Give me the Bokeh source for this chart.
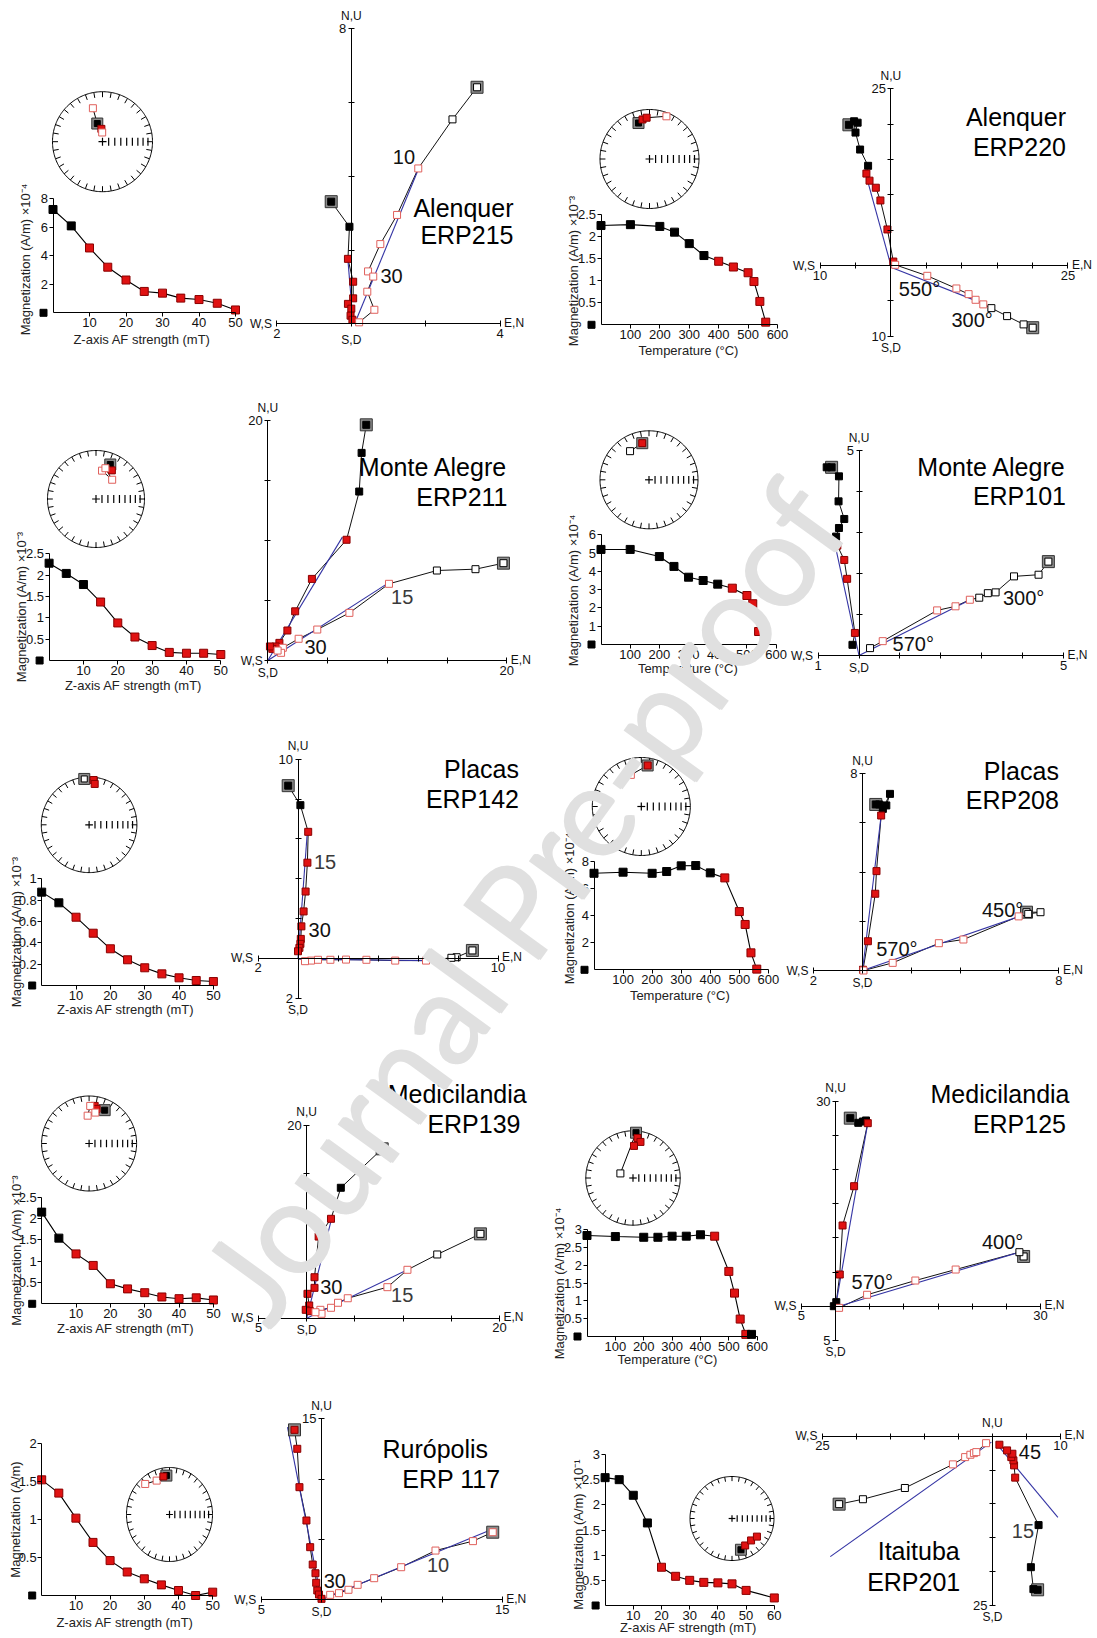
import numpy as np
from bokeh.plotting import figure
from bokeh.models import Range1d, LinearAxis, FixedTicker, CustomJSTickFormatter, Label
from bokeh.embed import file_html
from bokeh.resources import INLINE

FONT = "Liberation Sans"
RED, RED_EDGE = "#e01212", "#8a0000"
PINK = "#e0605c"
BLUE = "#3434a4"

# ---------------------------------------------------------------- data
AF = [0, 5, 10, 15, 20, 25, 30, 35, 40, 45, 50]
TH = [0, 100, 200, 250, 300, 350, 400, 450, 500, 520, 540, 560]

# ERP215  (Alenquer, AF)
ERP215_STEP = AF
ERP215_MAG = [7.25, 6.1, 4.55, 3.2, 2.3, 1.5, 1.38, 1.03, 0.93, 0.67, 0.2]
ERP215_FIT = [0, 0, 1, 1, 1, 1, 1, 1, 1, 1, 1]
ERP215_HX = [-0.54, -0.05, -0.09, 0.05, 0.05, -0.09, 0.0, -0.02, 0.03]
ERP215_HY = [3.31, 2.63, 1.76, 1.14, 0.69, 0.54, 0.41, 0.22, 0.11]
ERP215_HF = [0, 0, 1, 1, 1, 1, 1, 1, 1]
ERP215_VX = [3.38, 2.72, 1.80, 1.23, 0.78, 0.45, 0.59, 0.43, 0.62, 0.21]
ERP215_VY = [6.41, 5.54, 4.21, 2.95, 2.16, 1.42, 1.28, 0.87, 0.38, 0.04]
ERP215_VF = [0, 0, 1, 1, 1, 1, 1, 1, 1, 1]
ERP215_PCA_H = [0.05, 0.0, -0.09, 1.72]
ERP215_PCA_V = [0.09, 0.0, 1.82, 4.23]
ERP215_DEC = [344, 344, 355, 358]
ERP215_INC = [-31, 59, 69, -75]
ERP215_SN = ["r", "n", "r", "r"]

# ERP220  (Alenquer, thermal)
ERP220_STEP = TH
ERP220_MAG = [2.25, 2.27, 2.23, 2.10, 1.84, 1.57, 1.44, 1.31, 1.18, 0.98, 0.53, 0.06]
ERP220_FIT = [0, 0, 0, 0, 0, 0, 1, 1, 1, 1, 1, 1]
ERP220_HX = [-5.93, -5.2, -4.7, -5.0, -4.35, -3.22, -3.46, -3.02, -2.13, -1.48, -0.49, 0.34]
ERP220_HY = [19.9, 20.4, 20.2, 18.8, 16.4, 14.1, 13.0, 12.0, 11.0, 9.2, 5.1, 0.56]
ERP220_HF = [0, 0, 0, 0, 0, 0, 1, 1, 1, 1, 1, 1]
ERP220_VX = [20.03, 18.74, 16.41, 14.19, 13.05, 11.96, 10.97, 9.25, 5.14, 0.6]
ERP220_VY = [-8.8, -8.33, -7.16, -6.03, -5.5, -4.85, -4.05, -3.25, -1.46, 0.1]
ERP220_VF = [0, 0, 0, 0, 1, 1, 1, 1, 1, 1]
ERP220_PCA_H = [0.0, 0.0, -3.62, 13.18]
ERP220_PCA_V = [0.0, -0.24, 13.33, -5.5]
ERP220_DEC = [343, 350, 356, 21.6]
ERP220_INC = [25, 20, 17.5, -8]
ERP220_SN = ["n", "r", "r", "r"]

# ERP211  (Monte Alegre, AF)
ERP211_STEP = AF
ERP211_MAG = [2.28, 2.04, 1.78, 1.37, 0.88, 0.55, 0.35, 0.19, 0.17, 0.17, 0.14]
ERP211_FIT = [0, 0, 0, 1, 1, 1, 1, 1, 1, 1, 1]
ERP211_HX = [8.24, 7.85, 7.65, 6.59, 3.69, 2.29, 1.64, 0.97, 0.67, 0.38, 0.18]
ERP211_HY = [19.64, 17.3, 14.08, 10.06, 6.8, 4.1, 2.5, 1.47, 1.17, 0.97, 1.17]
ERP211_HF = [0, 0, 0, 1, 1, 1, 1, 1, 1, 1, 1]
ERP211_VX = [19.72, 17.38, 14.15, 10.14, 6.83, 4.14, 2.58, 1.26, 1.11, 0.82]
ERP211_VY = [8.11, 7.61, 7.5, 6.39, 3.97, 2.58, 1.81, 1.06, 0.64, 0.83]
ERP211_VF = [0, 0, 0, 1, 1, 1, 1, 1, 1, 1]
ERP211_PCA_H = [0.0, 0.0, 6.24, 10.28]
ERP211_PCA_V = [0.0, 0.0, 10.2, 6.53]
ERP211_DEC = [22.5, 29, 12, 40, 17]
ERP211_INC = [24, 33, -40, -47, -34]
ERP211_SN = ["n", "r", "r", "r", "r"]

# ERP101  (Monte Alegre, thermal)
ERP101_STEP = TH
ERP101_MAG = [5.2, 5.2, 4.81, 4.27, 3.68, 3.5, 3.3, 3.08, 2.68, 2.23, 0.71, 0.37]
ERP101_FIT = [0, 0, 0, 0, 0, 0, 0, 1, 1, 1, 1, 0]
ERP101_HX = [-0.67, -0.79, -0.49, -0.50, -0.36, -0.49, -0.56, -0.53, -0.36, -0.29, -0.10, -0.16]
ERP101_HY = [4.59, 4.59, 4.37, 3.76, 3.33, 3.11, 2.9, 2.68, 2.33, 1.87, 0.55, 0.26]
ERP101_HF = [0, 0, 0, 0, 0, 0, 0, 1, 1, 1, 1, 0]
ERP101_VX = [4.63, 4.39, 3.79, 3.34, 3.15, 2.94, 2.71, 2.36, 1.91, 0.58, 0.27]
ERP101_VY = [2.29, 1.97, 1.93, 1.54, 1.52, 1.41, 1.36, 1.2, 1.1, 0.35, 0.18]
ERP101_VF = [0, 0, 0, 0, 0, 0, 1, 1, 1, 1, 0]
ERP101_PCA_H = [0.0, 0.0, -0.59, 2.72]
ERP101_PCA_V = [0.0, 0.0, 2.72, 1.36]
ERP101_DEC = [326.5, 349.6, 349.6]
ERP101_INC = [-30.6, 25, 25]
ERP101_SN = ["k", "n", "r"]

# ERP142  (Placas, AF)
ERP142_STEP = AF
ERP142_MAG = [0.875, 0.775, 0.64, 0.49, 0.344, 0.241, 0.166, 0.109, 0.072, 0.047, 0.037]
ERP142_FIT = [0, 0, 1, 1, 1, 1, 1, 1, 1, 1, 1]
ERP142_HX = [-0.49, 0.12, 0.51, 0.47, 0.38, 0.28, 0.17, 0.14, 0.12, 0.07, 0.0]
ERP142_HY = [8.67, 7.69, 6.35, 4.8, 3.35, 2.35, 1.6, 0.97, 0.72, 0.52, 0.35]
ERP142_HF = [0, 0, 1, 1, 1, 1, 1, 1, 1, 1, 1]
ERP142_VX = [8.72, 7.93, 7.67, 6.4, 4.86, 3.42, 2.4, 1.62, 1.0, 0.65, 0.35]
ERP142_VY = [0.39, 0.05, 0.02, -0.12, -0.12, -0.08, -0.07, -0.08, -0.08, -0.12, -0.15]
ERP142_VF = [0, 0, 0, 1, 1, 1, 1, 1, 1, 1, 1]
ERP142_PCA_H = [0.0, 0.0, 0.47, 6.39]
ERP142_PCA_V = [0.0, -0.05, 6.7, -0.12]
ERP142_DEC = [354, 5.8, 7.8]
ERP142_INC = [-4, 6.5, 14.8]
ERP142_SN = ["n", "r", "r"]

# ERP208  (Placas, thermal)
ERP208_STEP = TH
ERP208_MAG = [7.11, 7.19, 7.11, 7.24, 7.66, 7.68, 7.14, 6.77, 4.29, 3.34, 1.25, 0.05]
ERP208_FIT = [0, 0, 0, 0, 0, 0, 0, 1, 1, 1, 1, 1]
ERP208_HX = [0.54, 0.97, 1.12, 0.83, 0.68, 0.76, 0.57, 0.52, 0.22, 0.02]
ERP208_HY = [6.75, 6.71, 7.18, 6.57, 6.75, 6.3, 4.04, 3.12, 1.19, 0.03]
ERP208_HF = [0, 0, 0, 0, 0, 1, 1, 1, 1, 1]
ERP208_VX = [6.68, 7.25, 6.75, 6.36, 4.11, 3.11, 1.23, 0.04]
ERP208_VY = [2.37, 2.37, 2.3, 2.2, 1.26, 1.11, 0.31, 0.0]
ERP208_VF = [0, 0, 0, 1, 1, 1, 1, 1]
ERP208_PCA_H = [0.0, 0.0, 0.76, 6.3]
ERP208_PCA_V = [0.0, 0.0, 6.39, 2.2]
ERP208_DEC = [341.7, 8.8, 8.8]
ERP208_INC = [-32.5, 16.4, 16.4]
ERP208_SN = ["r", "n", "r"]

# ERP139  (Medicilandia, AF)
ERP139_STEP = AF
ERP139_MAG = [2.15, 1.54, 1.17, 0.9, 0.47, 0.35, 0.26, 0.16, 0.12, 0.14, 0.09]
ERP139_FIT = [0, 0, 1, 1, 1, 1, 1, 1, 1, 1, 1]
ERP139_HX = [7.83, 3.54, 2.52, 1.24, 0.81, 0.81, 0.08, 0.26, -0.1, 0.33]
ERP139_HY = [17.57, 13.53, 10.31, 8.47, 4.25, 3.15, 2.53, 1.32, 0.87, 0.73]
ERP139_HF = [0, 0, 1, 1, 1, 1, 1, 1, 1, 1]
ERP139_VX = [18.02, 13.54, 10.45, 8.37, 4.26, 3.25, 2.52, 1.42, 1.54, 0.91]
ERP139_VY = [8.75, 6.61, 5.02, 3.22, 2.07, 1.6, 1.08, 0.87, 0.46, 0.62]
ERP139_VF = [0, 0, 1, 1, 1, 1, 1, 1, 1, 1]
ERP139_PCA_H = [0.0, 0.0, 2.62, 10.48]
ERP139_PCA_V = [0.0, 0.0, 10.45, 5.02]
ERP139_DEC = [25, 8.4, 12.2, 1.7, 357, 11.4]
ERP139_INC = [23.6, 21, 26.4, -22, -41, -34]
ERP139_SN = ["n", "r", "r", "r", "r", "r"]

# ERP125  (Medicilandia, thermal)
ERP125_STEP = [0, 100, 200, 250, 300, 350, 400, 450, 500, 520, 540, 560, 580]
ERP125_MAG = [2.84, 2.81, 2.79, 2.79, 2.82, 2.82, 2.86, 2.82, 1.83, 1.22, 0.49, 0.06, 0.06]
ERP125_FIT = [0, 0, 0, 0, 0, 0, 0, 1, 1, 1, 1, 1, 0]
ERP125_HX = [2.15, 3.32, 4.0, 4.45, 4.71, 2.71, 1.02, 0.61, 0.1, -0.26]
ERP125_HY = [27.53, 26.85, 27.04, 27.19, 26.8, 17.57, 11.82, 4.64, 0.59, 0.0]
ERP125_HF = [0, 0, 0, 0, 1, 1, 1, 1, 0, 0]
ERP125_VX = [27.53, 26.91, 17.58, 11.68, 4.61, 0.51]
ERP125_VY = [7.28, 7.91, 5.37, 3.76, 1.67, -0.24]
ERP125_VF = [0, 0, 1, 1, 1, 1]
ERP125_PCA_H = [0.0, 0.0, 4.71, 26.8]
ERP125_PCA_V = [0.0, -0.15, 26.91, 7.91]
ERP125_DEC = [290, 3.8, 6.4, 11.7, 1.8]
ERP125_INC = [-66.8, 4.3, 15.8, 23, 32.5]
ERP125_SN = ["k", "n", "r", "r", "r"]

# ERP117  (Ruropolis, AF)
ERP117_STEP = AF
ERP117_MAG = [1.525, 1.35, 1.02, 0.70, 0.46, 0.31, 0.22, 0.14, 0.066, 0.0, 0.044]
ERP117_FIT = [1, 1, 1, 1, 1, 1, 1, 1, 1, 1, 1]
ERP117_HX = [-2.24, -2.01, -1.83, -1.25, -0.94, -0.73, -0.5, -0.44, -0.35, -0.21, 0.0]
ERP117_HY = [14.08, 12.51, 9.33, 6.57, 4.36, 2.92, 2.2, 1.41, 0.77, 0.44, 0.08]
ERP117_HF = [1, 1, 1, 1, 1, 1, 1, 1, 1, 1, 1]
ERP117_VX = [14.21, 12.57, 9.46, 6.61, 4.37, 3.0, 2.24, 1.45, 0.72]
ERP117_VY = [5.6, 4.86, 4.08, 2.7, 1.79, 1.24, 0.83, 0.55, 0.41]
ERP117_VF = [1, 1, 1, 1, 1, 1, 1, 1, 1]
ERP117_PCA_H = [0.0, 0.0, -2.82, 14.3]
ERP117_PCA_V = [0.0, 0.0, 14.27, 5.88]
ERP117_DEC = [319, 337.5, 355, 350]
ERP117_INC = [-15, -23, 18, 19]
ERP117_SN = ["r", "r", "n", "r"]

# ERP201  (Itaituba, AF)
ERP201_STEP = [0, 5, 10, 15, 20, 25, 30, 35, 40, 45, 50, 60]
ERP201_MAG = [2.54, 2.5, 2.19, 1.64, 0.76, 0.58, 0.5, 0.46, 0.45, 0.43, 0.3, 0.15]
ERP201_FIT = [0, 0, 0, 0, 1, 1, 1, 1, 1, 1, 1, 1]
ERP201_HX = [6.65, 6.03, 5.66, 6.79, 3.35, 3.19, 3.09, 2.78, 2.94, 2.16, 1.03]
ERP201_HY = [-22.69, -22.59, -19.35, -13.13, -6.12, -4.31, -3.57, -3.09, -2.59, -2.1, -1.26]
ERP201_HF = [0, 0, 0, 0, 1, 1, 1, 1, 1, 1, 1]
ERP201_VX = [-22.54, -19.04, -12.87, -5.81, -4.01, -3.24, -2.72, -2.37, -0.93]
ERP201_VY = [-10.04, -9.31, -7.65, -4.16, -3.09, -2.74, -2.5, -2.35, -1.03]
ERP201_VF = [0, 0, 0, 1, 1, 1, 1, 1, 1]
ERP201_PCA_H = [0.62, -1.12, 9.63, -12.0]
ERP201_PCA_V = [-23.84, -17.79, -0.15, -0.88]
ERP201_DEC = [164, 154, 139, 126]
ERP201_INC = [23.6, 29.3, 31.4, 27.5]
ERP201_SN = ["n", "r", "r", "r"]

# axis ticks / extents
AF_TICKS = [10, 20, 30, 40, 50]
TH_TICKS = [100, 200, 300, 400, 500, 600]
AF60_TICKS = [10, 20, 30, 40, 50, 60]
AF_LABEL = "Z-axis AF strength (mT)"
TH_LABEL = "Temperature (°C)"

PANELS = [
    dict(key="ERP215", site="Alenquer", name="ERP215", xt=AF_TICKS, yt=[2, 4, 6, 8], xl=AF_LABEL,
         yl="Magnetization (A/m) ×10⁻⁴", zx=(-2, 4), zy=(0, 8), zs=2,
         notes=[("10", "#111"), ("30", "#111")]),
    dict(key="ERP220", site="Alenquer", name="ERP220", xt=TH_TICKS, yt=[0.5, 1, 1.5, 2, 2.5], xl=TH_LABEL,
         yl="Magnetization (A/m) ×10⁻³", zx=(-10, 25), zy=(-10, 25), zs=5,
         notes=[("550°", "#111"), ("300°", "#111")]),
    dict(key="ERP211", site="Monte Alegre", name="ERP211", xt=AF_TICKS, yt=[0.5, 1, 1.5, 2, 2.5], xl=AF_LABEL,
         yl="Magnetization (A/m) ×10⁻³", zx=(0, 20), zy=(0, 20), zs=5,
         notes=[("15", "#3a3a3a"), ("30", "#111")]),
    dict(key="ERP101", site="Monte Alegre", name="ERP101", xt=TH_TICKS, yt=[1, 2, 3, 4, 5, 6], xl=TH_LABEL,
         yl="Magnetization (A/m) ×10⁻⁴", zx=(-1, 5), zy=(0, 5), zs=1,
         notes=[("300°", "#111"), ("570°", "#111")]),
    dict(key="ERP142", site="Placas", name="ERP142", xt=AF_TICKS, yt=[0.2, 0.4, 0.6, 0.8, 1], xl=AF_LABEL,
         yl="Magnetization (A/m) ×10⁻³", zx=(-2, 10), zy=(-2, 10), zs=2,
         notes=[("15", "#3a3a3a"), ("30", "#111")]),
    dict(key="ERP208", site="Placas", name="ERP208", xt=TH_TICKS, yt=[2, 4, 6, 8], xl=TH_LABEL,
         yl="Magnetization (A/m) ×10⁻⁴", zx=(-2, 8), zy=(0, 8), zs=2,
         notes=[("450°", "#111"), ("570°", "#111")]),
    dict(key="ERP139", site="Medicilandia", name="ERP139", xt=AF_TICKS, yt=[0.5, 1, 1.5, 2, 2.5], xl=AF_LABEL,
         yl="Magnetization (A/m) ×10⁻³", zx=(-5, 20), zy=(0, 20), zs=5,
         notes=[("30", "#111"), ("15", "#3a3a3a")]),
    dict(key="ERP125", site="Medicilandia", name="ERP125", xt=TH_TICKS, yt=[0.5, 1, 1.5, 2, 2.5, 3], xl=TH_LABEL,
         yl="Magnetization (A/m) ×10⁻⁴", zx=(-5, 30), zy=(-5, 30), zs=5,
         notes=[("400°", "#111"), ("570°", "#111")]),
    dict(key="ERP117", site="Rurópolis", name="ERP 117", xt=AF_TICKS, yt=[0.5, 1, 1.5, 2], xl=AF_LABEL,
         yl="Magnetization (A/m)", zx=(-5, 15), zy=(0, 15), zs=5,
         notes=[("30", "#111"), ("10", "#3a3a3a")]),
    dict(key="ERP201", site="Itaituba", name="ERP201", xt=AF60_TICKS, yt=[0.5, 1, 1.5, 2, 2.5, 3], xl=AF_LABEL,
         yl="Magnetization (A/m) ×10⁻¹", zx=(-25, 10), zy=(-25, 0), zs=5,
         notes=[("45", "#111"), ("15", "#3a3a3a")]),
]

# ---------------------------------------------------------------- layout (page pixels)
DEMAG_BOX = {  # px of x=0, x=xmax, y=0, y=ymax
    "ERP215": (52.5, 235.0, 312.3, 198.3), "ERP220": (600.5, 777.0, 324.3, 214.0),
    "ERP211": (48.6, 220.3, 660.0, 553.3), "ERP101": (600.5, 775.6, 644.0, 534.3),
    "ERP142": (41.2, 212.9, 985.0, 878.3), "ERP208": (593.5, 767.9, 969.3, 860.7),
    "ERP139": (41.2, 212.9, 1303.3, 1196.7), "ERP125": (586.5, 756.7, 1336.0, 1229.3),
    "ERP117": (41.2, 212.2, 1595.0, 1443.3), "ERP201": (604.6, 773.8, 1605.0, 1454.0),
}
DEMAG_LAB = {  # (x-label centre), (y-label centre)
    "ERP215": ((141.5, 339), (24.6, 259)), "ERP220": ((688, 350), (572.5, 270.5)),
    "ERP211": ((133, 685), (21, 606.5)), "ERP101": ((687.3, 668.3), (573.2, 590)),
    "ERP142": ((125.2, 1009.3), (15.8, 931.5)), "ERP208": ((679.3, 995), (569, 908)),
    "ERP139": ((125.2, 1328.3), (15.8, 1250)), "ERP125": ((667, 1359), (558.5, 1283)),
    "ERP117": ((124.5, 1622), (14.7, 1519)), "ERP201": ((688, 1627), (577.8, 1534)),
}
ZIJ_ORG = {  # origin px, px per unit x, px per unit y
    "ERP215": (350.8, 323.3, 37.2, 36.9), "ERP220": (890.4, 265.0, 7.08, 7.07),
    "ERP211": (267.3, 660.0, 11.95, 12.0), "ERP101": (858.5, 655.0, 40.9, 41.0),
    "ERP142": (297.5, 957.7, 20.0, 19.9), "ERP208": (862.0, 970.0, 24.55, 24.6),
    "ERP139": (306.2, 1317.7, 9.64, 9.64), "ERP125": (835.1, 1305.7, 6.83, 6.83),
    "ERP117": (321.0, 1599.3, 12.05, 12.07), "ERP201": (991.9, 1435.7, 6.8, 6.77),
}
SD_GAP = {"ERP215": 16}
NOTE_POS = {
    "ERP215": [(403.4, 156), (391.1, 275)], "ERP220": [(919, 288.3), (971.6, 319.3)],
    "ERP211": [(401.7, 596.7), (315, 646.7)], "ERP101": [(1023.1, 597.3), (912.8, 643.3)],
    "ERP142": [(324.5, 861), (319.2, 929.3)], "ERP208": [(1002.1, 909.3), (896.4, 948.3)],
    "ERP139": [(330.8, 1286.7), (401.7, 1294)], "ERP125": [(1002.1, 1241.7), (871.8, 1281.7)],
    "ERP117": [(334.3, 1580.7), (437.5, 1564)], "ERP201": [(1029.4, 1451.7), (1022.4, 1530)],
}
TITLE_POS = {  # right edge x (line 1, line 2), y of line 1, y of line 2
    "ERP215": (513, 513, 207, 234), "ERP220": (1065.5, 1065.5, 116.7, 146.7),
    "ERP211": (507, 507, 466.7, 496), "ERP101": (1065.5, 1065.5, 466.7, 495.7),
    "ERP142": (518.5, 518.5, 768.3, 798.3), "ERP208": (1058.4, 1058.4, 770, 799.3),
    "ERP139": (526.2, 520, 1093.3, 1123.3), "ERP125": (1069, 1065.5, 1093.3, 1123.3),
    "ERP117": (487.6, 500, 1448.3, 1478.3), "ERP201": (956, 960.4, 1550, 1581),
}
STEREO = {  # centre px, radius px (x, y)
    "ERP215": (102, 141.2, 50, 50), "ERP220": (649, 158.5, 49.5, 49.5),
    "ERP211": (95.5, 498.5, 48.5, 48.5), "ERP101": (648.5, 479.3, 49, 49),
    "ERP142": (88.6, 824.3, 47.8, 47.8), "ERP208": (640.8, 806, 49, 49),
    "ERP139": (88.6, 1143, 47.5, 47.5), "ERP125": (632.5, 1177.5, 47.2, 47.2),
    "ERP117": (169, 1514, 43, 47), "ERP201": (731.5, 1518, 42, 42),
}

# ---------------------------------------------------------------- figure
W, H, OFF = 1097, 1636, 0
p = figure(width=W, height=H, x_range=Range1d(OFF, OFF + W), y_range=Range1d(OFF + H, OFF),
           x_axis_type=None, y_axis_type=None, toolbar_location=None, output_backend="svg",
           min_border=0, outline_line_color=None, title=None,
           background_fill_color="white", border_fill_color="white")


def space(name, xd, xp, yd, yp):
    kx = (xd[1] - xd[0]) / (xp[1] - xp[0])
    ky = (yd[1] - yd[0]) / (yp[1] - yp[0])
    p.extra_x_ranges[name] = Range1d(xd[0] + (OFF - xp[0]) * kx, xd[0] + (OFF + W - xp[0]) * kx)
    p.extra_y_ranges[name] = Range1d(yd[0] + (OFF + H - yp[0]) * ky, yd[0] + (OFF - yp[0]) * ky)


def txt(x, y, s, size=13, align="center", base="middle", color="#111", angle=0, font=FONT,
        level="annotation", style="normal"):
    p.add_layout(Label(x=x, y=y, text=s, text_font=font, text_font_size=f"{size}px", text_align=align,
                       text_baseline=base, text_color=color, angle=angle, angle_units="deg", level=level,
                       text_font_style=style))


def end_fmt(lo, hi):
    code = ""
    if lo != 0:
        code += f"if (Math.abs(tick - ({lo})) < 1e-9) return '{abs(lo)}';"
    if hi != 0:
        code += f"if (Math.abs(tick - ({hi})) < 1e-9) return '{abs(hi)}';"
    return CustomJSTickFormatter(code=code + "return '';")


def draw_demag(key, step, mag, fit, xt, yt, xl, yl):
    n = key + "_dm"
    x0p, x1p, y0p, y1p = DEMAG_BOX[key]
    xmax, ymax = xt[-1], yt[-1]
    space(n, (0, xmax), (x0p, x1p), (0, ymax), (y0p, y1p))
    kw = dict(x_range_name=n, y_range_name=n)
    ax = dict(axis_line_color="black", axis_line_width=1, major_tick_line_color="black",
              major_tick_in=0, major_tick_out=4, minor_tick_line_color=None,
              major_label_text_font=FONT, major_label_text_font_size="13px",
              major_label_text_color="#111", major_label_standoff=1)
    p.add_layout(LinearAxis(fixed_location=0, bounds=(0, xmax), ticker=FixedTicker(ticks=xt),
                            formatter=CustomJSTickFormatter(code="return String(Math.round(tick*1000)/1000);"),
                            **kw, **ax), "below")
    p.add_layout(LinearAxis(fixed_location=0, bounds=(0, ymax), ticker=FixedTicker(ticks=yt),
                            formatter=CustomJSTickFormatter(code="return String(Math.round(tick*1000)/1000);"),
                            **kw, **ax), "left")
    p.line(step, mag, line_color="black", line_width=1.1, **kw)
    p.scatter(step, mag, marker="square", size=8,
              fill_color=[RED if f else "black" for f in fit],
              line_color=[RED_EDGE if f else "black" for f in fit], **kw)
    kx = xmax / (x1p - x0p)
    p.scatter([-9.5 * kx], [0], marker="square", size=7, fill_color="black", line_color="black", **kw)
    (xlx, xly), (ylx, yly) = DEMAG_LAB[key]
    txt(xlx, xly, xl, 13, color="#222")
    txt(ylx, yly, yl, 13, color="#222", angle=90)


def draw_zij(key, zx, zy, zs, hx, hy, hf, vx, vy, vf, pca_h, pca_v):
    n = key + "_zj"
    ox, oy, sx, sy = ZIJ_ORG[key]
    space(n, (0, 1), (ox, ox + sx), (0, 1), (oy, oy - sy))
    kw = dict(x_range_name=n, y_range_name=n)
    ax = dict(axis_line_color="black", axis_line_width=1, major_tick_line_color="black",
              major_tick_in=3, major_tick_out=3, minor_tick_line_color=None,
              major_label_text_font=FONT, major_label_text_font_size="13px",
              major_label_text_color="#111", major_label_standoff=2)
    p.add_layout(LinearAxis(fixed_location=0, bounds=zx, ticker=FixedTicker(ticks=list(range(zx[0], zx[1] + 1, zs))),
                            formatter=end_fmt(*zx), **kw, **ax), "below")
    p.add_layout(LinearAxis(fixed_location=0, bounds=zy, ticker=FixedTicker(ticks=list(range(zy[0], zy[1] + 1, zs))),
                            formatter=end_fmt(*zy), **kw, **ax), "left")
    # direction labels
    txt(ox, oy - zy[1] * sy - 13, "N,U", 12)
    txt(ox, oy - zy[0] * sy + SD_GAP.get(key, 12), "S,D", 12)
    txt(ox + zx[0] * sx - 5, oy, "W,S", 12, align="right")
    txt(min(ox + zx[1] * sx + 4, W - 24), oy - 1, "E,N", 12, align="left")
    # data
    p.line(hx, hy, line_color="#111", line_width=1, **kw)
    p.line(vx, vy, line_color="#111", line_width=1, **kw)
    p.line(pca_h[0::2], pca_h[1::2], line_color=BLUE, line_width=1.1, **kw)
    p.line(pca_v[0::2], pca_v[1::2], line_color=BLUE, line_width=1.1, **kw)
    p.scatter([hx[0], vx[0]], [hy[0], vy[0]], marker="square", size=12, fill_color="#8c8c8c",
              line_color="#333", **kw)
    p.scatter(hx, hy, marker="square", size=7, fill_color=[RED if f else "black" for f in hf],
              line_color=[RED_EDGE if f else "black" for f in hf], **kw)
    p.scatter(vx, vy, marker="square", size=7, fill_color="white",
              line_color=[PINK if f else "black" for f in vf], line_width=1, **kw)


def draw_stereo(key, dec, inc, kind):
    n = key + "_sn"
    cx, cy, rx, ry = STEREO[key]
    space(n, (-1, 1), (cx - rx, cx + rx), (-1, 1), (cy + ry, cy - ry))
    kw = dict(x_range_name=n, y_range_name=n)
    t = np.linspace(0, 2 * np.pi, 241)
    p.line(np.cos(t), np.sin(t), line_color="black", line_width=1, **kw)
    a = np.radians(np.arange(0, 360, 10))
    p.segment(np.sin(a), np.cos(a), 0.89 * np.sin(a), 0.89 * np.cos(a), line_color="black", line_width=1, **kw)
    p.segment([-0.08, 0.0], [0.0, -0.08], [0.08, 0.0], [0.0, 0.08], line_color="black", line_width=1.2, **kw)
    r = np.sqrt(2) * np.sin(np.radians(90 - np.arange(80, 0, -10)) / 2)
    p.segment(r, -0.08 * np.ones_like(r), r, 0.08 * np.ones_like(r), line_color="black", line_width=1.2, **kw)
    d = np.radians(dec)
    i = np.array(inc, dtype=float)
    rr = np.sqrt(2) * np.sin(np.radians(90 - np.abs(i)) / 2)
    x, y = rr * np.sin(d), rr * np.cos(d)
    p.line(x, y, line_color="black", line_width=1, **kw)
    for xi, yi, ii, k in zip(x, y, i, kind):
        down = ii >= 0
        if k == "n":
            p.scatter([xi], [yi], marker="square", size=11, fill_color="#8c8c8c", line_color="#333", **kw)
            p.scatter([xi], [yi], marker="square", size=6, fill_color="black" if down else "white",
                      line_color="black", **kw)
        elif k == "r":
            p.scatter([xi], [yi], marker="square", size=7, fill_color=RED if down else "white",
                      line_color=RED_EDGE if down else PINK, **kw)
        else:
            p.scatter([xi], [yi], marker="square", size=7, fill_color="black" if down else "white",
                      line_color="black", **kw)


for P in PANELS:
    k = P["key"]
    g = globals()
    draw_stereo(k, g[k + "_DEC"], g[k + "_INC"], g[k + "_SN"])
    draw_demag(k, g[k + "_STEP"], g[k + "_MAG"], g[k + "_FIT"], P["xt"], P["yt"], P["xl"], P["yl"])
    draw_zij(k, P["zx"], P["zy"], P["zs"], g[k + "_HX"], g[k + "_HY"], g[k + "_HF"],
             g[k + "_VX"], g[k + "_VY"], g[k + "_VF"], g[k + "_PCA_H"], g[k + "_PCA_V"])
    for (s, col), (nx, ny) in zip(P["notes"], NOTE_POS[k]):
        txt(nx, ny, s, 20, color=col)
    x1, x2, y1, y2 = TITLE_POS[k]
    if k == "ERP201":
        txt((x1 + x2) / 2 - 40, y1, P["site"], 25, align="center", color="black")
        txt((x1 + x2) / 2 - 45, y2, P["name"], 25, align="center", color="black")
    else:
        txt(x1, y1, P["site"], 25, align="right", color="black")
        txt(x2, y2, P["name"], 25, align="right", color="black")

# watermark (regular weight, drawn twice with a small offset for a slightly heavier stroke)
for dx in (0.0, 2.0):
    txt(520 + dx, 899, "Journal Pre-proof", 130, color="#e0e0e0", angle=54, font="Lato", level="overlay")

open("out.html", "w").write(file_html(p, INLINE))
